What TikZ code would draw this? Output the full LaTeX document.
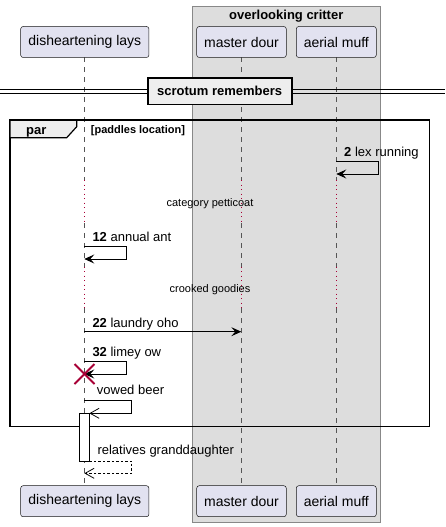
\documentclass[tikz,border=0pt]{standalone}
\usepackage{fontspec}
\setmainfont{Liberation Sans}
\usetikzlibrary{arrows.meta}
\definecolor{partfill}{HTML}{E2E2F0}
\definecolor{partline}{HTML}{181818}
\definecolor{grpfill}{HTML}{DDDDDD}
\definecolor{grpline}{HTML}{888888}
\definecolor{lifeline}{HTML}{555555}
\definecolor{delayc}{HTML}{A80036}
\definecolor{tabfill}{HTML}{EEEEEE}
\tikzset{
  partbox/.style={draw=partline, line width=0.5pt, fill=partfill, rounded corners=2.5pt, minimum width=#1, minimum height=31pt, inner sep=0pt, font=\fontsize{14}{16}\selectfont},
  lifeseg/.style={draw=lifeline, line width=0.6pt, dash pattern=on 5pt off 5pt},
  delayseg/.style={draw=delayc, line width=1pt, dash pattern=on 1.2pt off 3.3pt},
  msg/.style={anchor=base west, inner sep=0pt, font=\fontsize{13}{15}\selectfont},
  delaytxt/.style={anchor=base, inner sep=0pt, font=\fontsize{11}{13}\selectfont},
  msgline/.style={draw=black, line width=0.9pt},
  fullhead/.style={-{Stealth[length=10pt,width=9pt,inset=4pt]}},
  openhead/.style={-{Straight Barb[length=9pt,width=10pt,line width=0.8pt]}},
}
\begin{document}
\begin{tikzpicture}[x=1pt,y=-1pt]
\useasboundingbox[fill=white] (0,0) rectangle (445,527);
% group box
\path[fill=grpfill, draw=grpline, line width=0.9pt] (192.3,6) rectangle (380.3,522);
\node[inner sep=0pt, anchor=base, font=\bfseries\fontsize{13}{15}\selectfont] (grptitle) at (286.3,20) {overlooking critter};
% lifeline coordinates
\coordinate (L1top) at (84.3,57.3);
\coordinate (L2top) at (241.3,57.3);
\coordinate (L3top) at (336.3,57.3);
% lifelines
\foreach \x in {84.3,241.3,336.3}{
  \draw[lifeseg] (\x,57.3) -- (\x,180);
  \draw[delayseg] (\x,180) -- (\x,223.3);
  \draw[lifeseg] (\x,223.3) -- (\x,266.7);
  \draw[delayseg] (\x,266.7) -- (\x,308.3);
  \draw[lifeseg] (\x,308.3) -- (\x,485.3);
}
% participants top
\node[partbox=128.3pt] (p1t) at (84.8,42) {disheartening lays};
\node[partbox=89.6pt] (p2t) at (241.5,42) {master dour};
\node[partbox=80pt] (p3t) at (336.3,42) {aerial muff};
% participants bottom
\node[partbox=128.3pt] (p1b) at (84.8,501.2) {disheartening lays};
\node[partbox=89.6pt] (p2b) at (241.5,501.2) {master dour};
\node[partbox=80pt] (p3b) at (336.3,501.2) {aerial muff};
% divider
\draw[line width=0.9pt] (0,89.5) -- (445,89.5);
\draw[line width=0.9pt] (0,93.5) -- (445,93.5);
\node[draw=black, line width=1.6pt, fill=tabfill, minimum width=144pt, minimum height=26.6pt, inner sep=0pt, font=\bfseries\fontsize{13}{15}\selectfont] (divider) at (219.7,91) {scrotum remembers};
% par frame
\draw[line width=1.5pt] (10,120) rectangle (429.7,426.7);
\path[fill=tabfill, draw=black, line width=1.2pt] (10,120) -- (76.7,120) -- (76.7,126.7) -- (66.7,137.7) -- (10,137.7) -- cycle;
\draw[line width=1.5pt] (10,120) -- (429.7,120);
\node[inner sep=0pt, anchor=base west, font=\bfseries\fontsize{13}{15}\selectfont] (partitle) at (26,134) {par};
\node[inner sep=0pt, anchor=base west, font=\bfseries\fontsize{11}{13}\selectfont] (parcond) at (90.7,133.3) {[paddles location]};
% message 2
\node[msg] (m2) at (344,156.5) {\textbf{2} lex running};
\coordinate (m2a) at (336.3,161.7);
\coordinate (m2b) at (378.3,161.7);
\coordinate (m2c) at (378.3,174);
\coordinate (m2d) at (336.3,174);
\draw[msgline, fullhead] (m2a) -- (m2b) -- (m2c) -- (m2d);
% delay 1
\node[delaytxt] (d1) at (210,206.7) {category petticoat};
% message 12
\node[msg] (m12) at (92.3,241.7) {\textbf{12} annual ant};
\coordinate (m12a) at (84.3,246.7);
\coordinate (m12b) at (126.7,246.7);
\coordinate (m12c) at (126.7,259);
\coordinate (m12d) at (84.3,259);
\draw[msgline, fullhead] (m12a) -- (m12b) -- (m12c) -- (m12d);
% delay 2
\node[delaytxt] (d2) at (210,292.3) {crooked goodies};
% message 22
\node[msg] (m22) at (92.3,327) {\textbf{22} laundry oho};
\coordinate (m22a) at (84.3,331.7);
\coordinate (m22b) at (241.3,331.7);
\draw[msgline, fullhead] (m22a) -- (m22b);
% message 32
\node[msg] (m32) at (92.3,356.7) {\textbf{32} limey ow};
\coordinate (m32a) at (84.3,361.7);
\coordinate (m32b) at (126.7,361.7);
\coordinate (m32c) at (126.7,374);
\coordinate (m32d) at (84.3,374);
\draw[msgline, fullhead] (m32a) -- (m32b) -- (m32c) -- (m32d);
\coordinate (xc) at (84.5,374);
\draw[delayc, line width=1.8pt] ([shift={(-10,-10)}]xc) -- ([shift={(10,10)}]xc);
\draw[delayc, line width=1.8pt] ([shift={(-10,10)}]xc) -- ([shift={(10,-10)}]xc);
% vowed beer
\node[msg] (mvb) at (96.7,394.3) {vowed beer};
\coordinate (vba) at (84.3,400.7);
\coordinate (vbb) at (131.7,400.7);
\coordinate (vbc) at (131.7,413.3);
\coordinate (vbd) at (89.3,413.3);
\draw[msgline, openhead] (vba) -- (vbb) -- (vbc) -- (vbd);
% activation
\node[draw=black, line width=0.9pt, fill=white, minimum width=10pt, minimum height=47.7pt, inner sep=0pt] (act) at (84.3,437.15) {};
% return
\node[msg] (mrg) at (97.3,454.3) {relatives granddaughter};
\coordinate (rga) at (89.3,461);
\coordinate (rgb) at (131.7,461);
\coordinate (rgc) at (131.7,473.3);
\coordinate (rgd) at (84.3,473.3);
\draw[msgline, line width=0.8pt, dash pattern=on 2.5pt off 2pt, openhead] (rga) -- (rgb) -- (rgc) -- (rgd);
\end{tikzpicture}
\end{document}
